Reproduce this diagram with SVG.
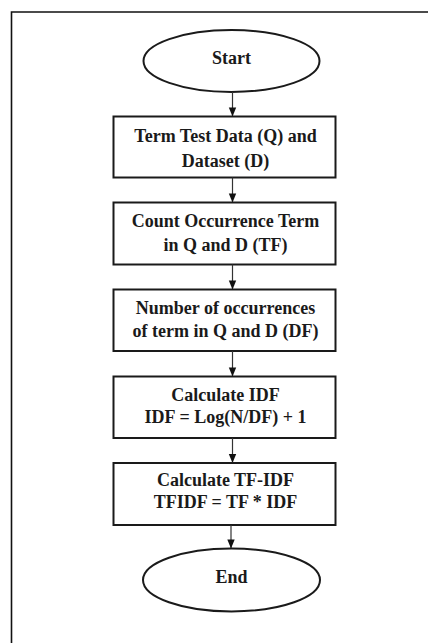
<svg xmlns="http://www.w3.org/2000/svg" width="428" height="643" viewBox="0 0 428 643">
<style>
.shape{fill:#fff;stroke:#1a1a1a;stroke-width:2}
.lbl{font-family:"Liberation Serif","Times New Roman",serif;font-weight:bold;font-size:18px;fill:#1a1a1a;text-anchor:middle}
.conn{stroke:#333;stroke-width:1.2;fill:none}
.head{fill:#111}
</style>
<rect width="428" height="643" fill="#fff"/>
<g id="frame">
<path d="M11.5,643 V12 H428" fill="none" stroke="#111" stroke-width="1.6"/>
</g>
<g id="start">
<ellipse class="shape" cx="231.5" cy="61" rx="88" ry="31"/>
<text class="lbl" x="231.5" y="63.5">Start</text>
</g>
<g id="n1">
<rect class="shape" x="113.5" y="116.5" width="222" height="61"/>
<text class="lbl" x="225.5" y="141.5">Term Test Data (Q) and</text>
<text class="lbl" x="225.5" y="166.5">Dataset (D)</text>
</g>
<g id="n2">
<rect class="shape" x="113.5" y="202.5" width="222" height="62"/>
<text class="lbl" x="225.5" y="227.3">Count Occurrence Term</text>
<text class="lbl" x="225.5" y="251">in Q and D (TF)</text>
</g>
<g id="n3">
<rect class="shape" x="113.5" y="289.5" width="222" height="61.5"/>
<text class="lbl" x="225.5" y="314.3">Number of occurrences</text>
<text class="lbl" x="225.5" y="337">of term in Q and D (DF)</text>
</g>
<g id="n4">
<rect class="shape" x="113.5" y="376.5" width="222" height="61.5"/>
<text class="lbl" x="225.5" y="400.7">Calculate IDF</text>
<text class="lbl" x="225.5" y="423.3">IDF = Log(N/DF) + 1</text>
</g>
<g id="n5">
<rect class="shape" x="113.5" y="463" width="222" height="62"/>
<text class="lbl" x="225.5" y="486">Calculate TF-IDF</text>
<text class="lbl" x="225.5" y="507.7">TFIDF = TF * IDF</text>
</g>
<g id="end">
<ellipse class="shape" cx="231.5" cy="580" rx="88.5" ry="31.5"/>
<text class="lbl" x="231.5" y="583.3">End</text>
</g>
<g id="connectors">
<path class="conn" d="M232.5,92 V116"/>
<path class="head" d="M228.8,107.5 L236.2,107.5 L232.5,116.5 Z"/>
<path class="conn" d="M232.5,177.5 V202"/>
<path class="head" d="M228.8,193.5 L236.2,193.5 L232.5,202.5 Z"/>
<path class="conn" d="M232.5,264.5 V289"/>
<path class="head" d="M228.8,280.5 L236.2,280.5 L232.5,289.5 Z"/>
<path class="conn" d="M232.5,351 V376"/>
<path class="head" d="M228.8,367.5 L236.2,367.5 L232.5,376.5 Z"/>
<path class="conn" d="M232.5,438 V462.5"/>
<path class="head" d="M228.8,454 L236.2,454 L232.5,463 Z"/>
<path class="conn" d="M231,525 V548"/>
<path class="head" d="M227.3,539.5 L234.7,539.5 L231,548.5 Z"/>
</g>
</svg>
